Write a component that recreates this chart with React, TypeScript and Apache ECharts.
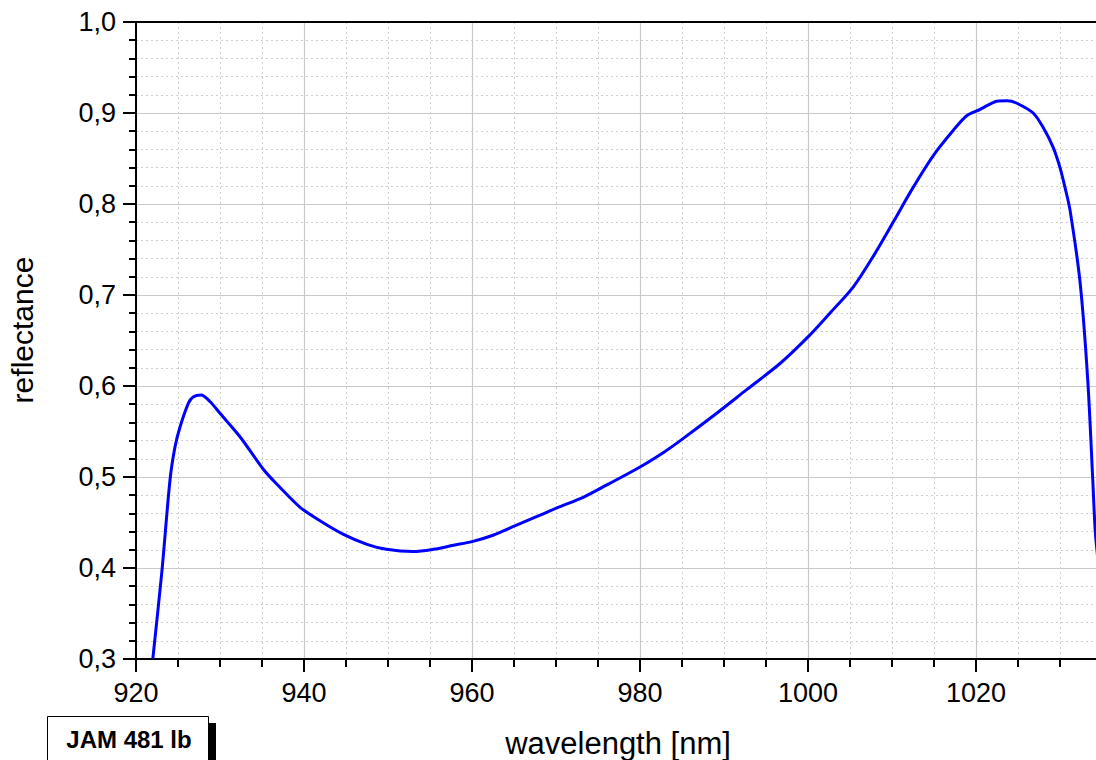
import React, { useEffect, useRef } from "react";
import * as echarts from "echarts";

const wavelength: number[] = [
  922.0, 923.1, 924.05, 924.64, 925.24, 926.23, 926.8, 927.74, 928.8, 930.0,
  932.4, 935.2, 937.1, 939.5, 941.9, 944.7, 947.5, 949.8, 953.0, 955.4,
  957.8, 960.0, 962.5, 965.3, 968.1, 970.1, 973.3, 976.0, 980.0, 982.8,
  984.8, 988.7, 992.7, 996.7, 1000.0, 1002.6, 1005.4, 1007.8, 1010.2, 1012.5,
  1014.9, 1017.3, 1018.9, 1020.5, 1021.3, 1022.5, 1023.7, 1024.8, 1026.8, 1028.0,
  1029.2, 1030.0, 1030.6, 1031.2, 1032.4, 1033.3, 1033.9, 1034.2, 1034.6, 1035.0,
];
const reflectance: number[] = [
  0.3, 0.398, 0.497, 0.533, 0.555, 0.581, 0.588, 0.59, 0.583, 0.57,
  0.544, 0.508, 0.489, 0.467, 0.452, 0.437, 0.426, 0.4205, 0.418, 0.4205,
  0.425, 0.429, 0.436, 0.447, 0.458, 0.466, 0.478, 0.491, 0.511, 0.527,
  0.540, 0.567, 0.596, 0.625, 0.654, 0.68, 0.709, 0.743, 0.781, 0.818,
  0.853, 0.881, 0.897, 0.904, 0.908, 0.913, 0.9135, 0.911, 0.9, 0.884,
  0.862, 0.840, 0.818, 0.793, 0.713, 0.607, 0.497, 0.44, 0.40, 0.35,
];

const xTitle = "wavelength [nm]";
const yTitle = "reflectance";
const sampleLabel = "JAM 481 lb";

const FONT = "'Liberation Sans', Arial, Helvetica, sans-serif";

export default function App() {
  const ref = useRef<HTMLDivElement>(null);

  useEffect(() => {
    if (!ref.current) return;
    const chart = echarts.init(ref.current, null, { renderer: "svg" });
    const data = wavelength.map((w, i) => [w, reflectance[i]]);
    const gridLeft = 136;
    const gridTop = 22;
    const gridW = 1008;
    const gridH = 637;

    chart.setOption({
      animation: false,
      backgroundColor: "#ffffff",
      textStyle: { fontFamily: FONT },
      grid: { left: gridLeft, top: gridTop, width: gridW, height: gridH, containLabel: false },
      xAxis: [
        {
          type: "value",
          min: 920,
          max: 1040,
          interval: 20,
          position: "bottom",
          axisLine: { show: true, onZero: false, lineStyle: { color: "#000", width: 2 } },
          axisTick: { show: true, inside: false, length: 13, lineStyle: { color: "#000", width: 2 } },
          minorTick: { show: true, splitNumber: 4, length: 8, lineStyle: { color: "#000", width: 2 } },
          axisLabel: {
            show: true,
            margin: 20,
            color: "#000",
            fontSize: 27,
            fontFamily: FONT,
            formatter: (v: number) => (v <= 1020 ? String(v) : ""),
          },
          splitLine: { show: true, lineStyle: { color: "#c8c8c8", width: 1.2 } },
          minorSplitLine: { show: true, lineStyle: { color: "#cfcfcf", width: 1, type: [2, 3] } },
        },
        {
          type: "value",
          min: 920,
          max: 1040,
          interval: 20,
          position: "top",
          axisLine: { show: true, onZero: false, lineStyle: { color: "#000", width: 2 } },
          axisTick: { show: false },
          axisLabel: { show: false },
          splitLine: { show: false },
        },
      ],
      yAxis: {
        type: "value",
        min: 0.3,
        max: 1.0,
        interval: 0.1,
        axisLine: { show: true, onZero: false, lineStyle: { color: "#000", width: 2 } },
        axisTick: { show: true, inside: false, length: 13, lineStyle: { color: "#000", width: 2 } },
        minorTick: { show: true, splitNumber: 5, length: 7, lineStyle: { color: "#000", width: 2 } },
        axisLabel: {
          show: true,
          margin: 20,
          color: "#000",
          fontSize: 27,
          fontFamily: FONT,
          formatter: (v: number) => v.toFixed(1).replace(".", ","),
        },
        splitLine: { show: true, lineStyle: { color: "#c8c8c8", width: 1.2 } },
        minorSplitLine: { show: true, lineStyle: { color: "#cfcfcf", width: 1, type: [2, 3] } },
      },
      series: [
        {
          type: "line",
          data,
          xAxisIndex: 0,
          yAxisIndex: 0,
          showSymbol: false,
          symbol: "none",
          smooth: 0.3,
          clip: true,
          lineStyle: { color: "#0000ff", width: 3 },
          z: 5,
        },
      ],
      graphic: [
        {
          type: "text",
          x: 618,
          y: 743,
          style: {
            text: xTitle,
            fill: "#000",
            font: `31px ${FONT}`,
            align: "center",
            verticalAlign: "middle",
          },
          z: 10,
        },
        {
          type: "text",
          x: 22,
          y: 330,
          rotation: Math.PI / 2,
          style: {
            text: yTitle,
            fill: "#000",
            font: `30px ${FONT}`,
            align: "center",
            verticalAlign: "middle",
          },
          z: 10,
        },
        {
          type: "rect",
          shape: { x: 55, y: 723, width: 161, height: 60 },
          style: { fill: "#000" },
          z: 10,
        },
        {
          type: "rect",
          shape: { x: 47.5, y: 716.5, width: 161, height: 60 },
          style: { fill: "#fff", stroke: "#000", lineWidth: 1 },
          z: 11,
        },
        {
          type: "text",
          x: 129,
          y: 739,
          style: {
            text: sampleLabel,
            fill: "#000",
            font: `bold 24px ${FONT}`,
            align: "center",
            verticalAlign: "middle",
          },
          z: 12,
        },
      ],
    });

    return () => chart.dispose();
  }, []);

  return (
    <div
      style={{
        position: "fixed",
        left: 0,
        top: 0,
        width: 1096,
        height: 760,
        overflow: "hidden",
        background: "#fff",
      }}
    >
      <div ref={ref} style={{ width: 1160, height: 760 }} />
    </div>
  );
}
